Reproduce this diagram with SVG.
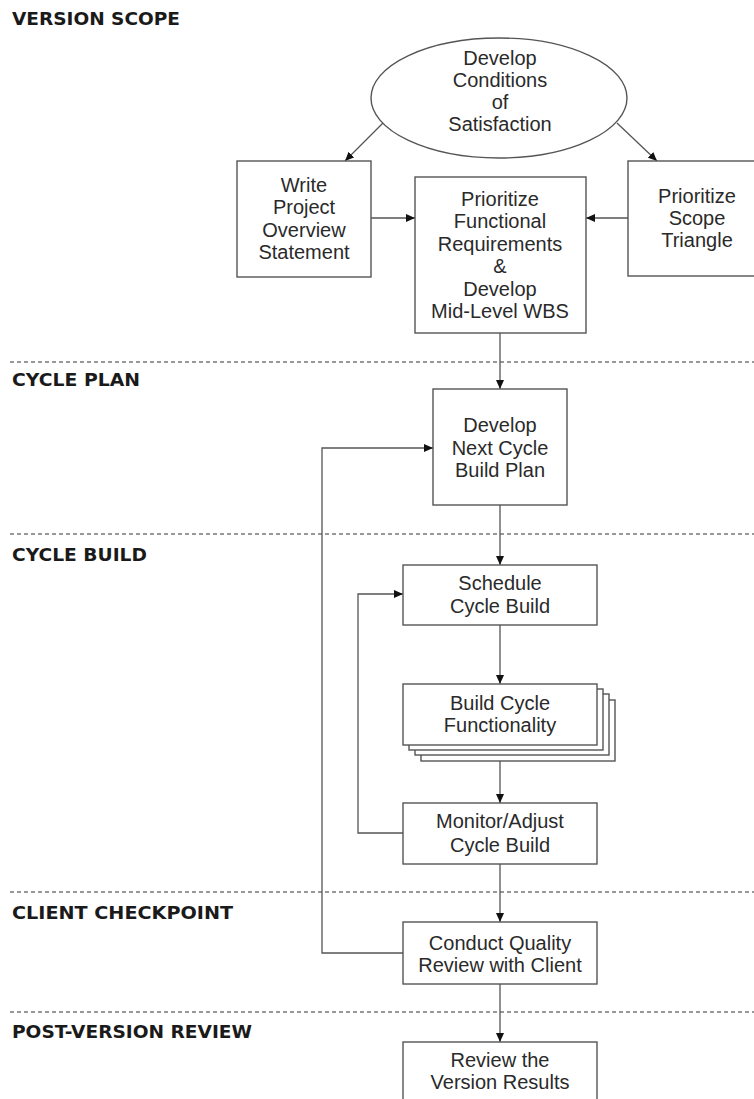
<svg xmlns="http://www.w3.org/2000/svg" width="754" height="1099" viewBox="0 0 754 1099">
<style>
.hdr{font-family:"DejaVu Sans",sans-serif;font-weight:bold;font-size:17px;fill:#1a1a1a}
.t{font-family:"Liberation Sans",Arial,sans-serif;font-size:20px;fill:#2a2a2a;text-anchor:middle}
.box{fill:#fff;stroke:#555;stroke-width:1.4}
.sep{stroke:#777;stroke-width:1.5;stroke-dasharray:4 3;fill:none}
.con{stroke:#555;stroke-width:1.3;fill:none}
</style>
<defs>
<marker id="arr" markerUnits="userSpaceOnUse" markerWidth="9" markerHeight="9" viewBox="0 0 9 8" refX="9" refY="4" orient="auto">
<path d="M0,0 L9,4 L0,8 z" fill="#111"/>
</marker>
</defs>
<rect width="754" height="1099" fill="#fff"/>

<g id="lanes">
<line class="sep" x1="10" y1="362" x2="754" y2="362"/>
<line class="sep" x1="10" y1="534" x2="754" y2="534"/>
<line class="sep" x1="10" y1="892" x2="754" y2="892"/>
<line class="sep" x1="10" y1="1012" x2="754" y2="1012"/>
<text class="hdr" x="12" y="25" textLength="168" lengthAdjust="spacingAndGlyphs">VERSION SCOPE</text>
<text class="hdr" x="12" y="386" textLength="128" lengthAdjust="spacingAndGlyphs">CYCLE PLAN</text>
<text class="hdr" x="12" y="561" textLength="135" lengthAdjust="spacingAndGlyphs">CYCLE BUILD</text>
<text class="hdr" x="12" y="919" textLength="221" lengthAdjust="spacingAndGlyphs">CLIENT CHECKPOINT</text>
<text class="hdr" x="12" y="1038" textLength="240" lengthAdjust="spacingAndGlyphs">POST-VERSION REVIEW</text>
</g>

<g id="connectors">
<line class="con" x1="383" y1="123" x2="345" y2="161" marker-end="url(#arr)"/>
<line class="con" x1="617" y1="123" x2="657" y2="161" marker-end="url(#arr)"/>
<line class="con" x1="371" y1="218" x2="415" y2="218" marker-end="url(#arr)"/>
<line class="con" x1="628" y1="218" x2="586" y2="218" marker-end="url(#arr)"/>
<line class="con" x1="500" y1="333" x2="500" y2="389" marker-end="url(#arr)"/>
<line class="con" x1="500" y1="505" x2="500" y2="565" marker-end="url(#arr)"/>
<line class="con" x1="500" y1="625" x2="500" y2="684" marker-end="url(#arr)"/>
<line class="con" x1="500" y1="760" x2="500" y2="803" marker-end="url(#arr)"/>
<line class="con" x1="500" y1="864" x2="500" y2="922" marker-end="url(#arr)"/>
<line class="con" x1="500" y1="984" x2="500" y2="1042" marker-end="url(#arr)"/>
<polyline class="con" points="403,833 358,833 358,594 403,594" marker-end="url(#arr)"/>
<polyline class="con" points="403,953 322,953 322,448 433,448" marker-end="url(#arr)"/>
</g>

<g id="conditions">
<ellipse class="box" cx="499" cy="98" rx="128" ry="60"/>
<text class="t" x="500" y="65">Develop</text>
<text class="t" x="500" y="87">Conditions</text>
<text class="t" x="500" y="109">of</text>
<text class="t" x="500" y="131">Satisfaction</text>
</g>

<g id="overview">
<rect class="box" x="237" y="161" width="134" height="116"/>
<text class="t" x="304" y="192">Write</text>
<text class="t" x="304" y="214">Project</text>
<text class="t" x="304" y="237">Overview</text>
<text class="t" x="304" y="259">Statement</text>
</g>

<g id="prioritize-req">
<rect class="box" x="415" y="177" width="171" height="156"/>
<text class="t" x="500" y="206">Prioritize</text>
<text class="t" x="500" y="228">Functional</text>
<text class="t" x="500" y="251">Requirements</text>
<text class="t" x="500" y="273">&amp;</text>
<text class="t" x="500" y="296">Develop</text>
<text class="t" x="500" y="318">Mid-Level WBS</text>
</g>

<g id="scope-triangle">
<rect class="box" x="628" y="161" width="140" height="115"/>
<text class="t" x="697" y="203">Prioritize</text>
<text class="t" x="697" y="225">Scope</text>
<text class="t" x="697" y="247">Triangle</text>
</g>

<g id="cycle-plan">
<rect class="box" x="433" y="389" width="134" height="116"/>
<text class="t" x="500" y="432">Develop</text>
<text class="t" x="500" y="455">Next Cycle</text>
<text class="t" x="500" y="477">Build Plan</text>
</g>

<g id="schedule">
<rect class="box" x="403" y="565" width="194" height="60"/>
<text class="t" x="500" y="590">Schedule</text>
<text class="t" x="500" y="613">Cycle Build</text>
</g>

<g id="build">
<rect class="box" x="421" y="700" width="194" height="61"/>
<rect class="box" x="415" y="694" width="194" height="61"/>
<rect class="box" x="409" y="689" width="194" height="61"/>
<rect class="box" x="403" y="684" width="194" height="61"/>
<text class="t" x="500" y="710">Build Cycle</text>
<text class="t" x="500" y="732">Functionality</text>
</g>

<g id="monitor">
<rect class="box" x="403" y="803" width="194" height="61"/>
<text class="t" x="500" y="828">Monitor/Adjust</text>
<text class="t" x="500" y="852">Cycle Build</text>
</g>

<g id="quality-review">
<rect class="box" x="403" y="922" width="194" height="62"/>
<text class="t" x="500" y="950">Conduct Quality</text>
<text class="t" x="500" y="972">Review with Client</text>
</g>

<g id="version-review">
<rect class="box" x="403" y="1042" width="194" height="70"/>
<text class="t" x="500" y="1067">Review the</text>
<text class="t" x="500" y="1089">Version Results</text>
</g>
</svg>
